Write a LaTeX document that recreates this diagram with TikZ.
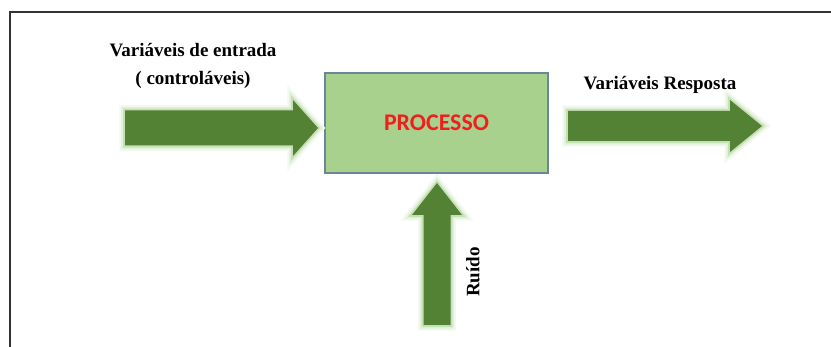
\documentclass[tikz,border=0pt]{standalone}
\usepackage{fontspec}
\setmainfont{Liberation Serif}
\newfontfamily\boxfont{Carlito}

\definecolor{arrowgreen}{HTML}{548235}
\definecolor{glowgreen}{HTML}{C5E0B4}
\definecolor{boxgreen}{HTML}{A9D18E}
\definecolor{boxborder}{HTML}{6A8798}
\definecolor{procred}{HTML}{F01E1E}
\definecolor{framegray}{HTML}{333333}

\begin{document}
\begin{tikzpicture}[x=0.025cm, y=-0.025cm,
  blockarrow/.style={fill=arrowgreen, line join=round,
    preaction={draw=glowgreen!20, line width=8pt},
    preaction={draw=glowgreen!50, line width=5pt},
    preaction={draw=glowgreen, line width=2.5pt}},
  lbl/.style={font=\fontsize{13.5}{16}\selectfont\bfseries, inner sep=0pt},
  procbox/.style={draw=boxborder, fill=boxgreen, line width=0.8pt,
    minimum width=5.575cm, minimum height=2.5cm,
    font=\boxfont\fontsize{17}{20}\selectfont\bfseries, text=procred}]
\useasboundingbox (0,0) rectangle (831,347);
%frame
\draw[framegray, line width=1pt] (10,347) -- (10,12) -- (831,12);
%process
\node[procbox] (proc) at (436.5,123) {PROCESSO};
%input
\fill[blockarrow] (125,110.5) -- (293,110.5) -- (293,100) -- (318,128)
  -- (293,156) -- (293,145.5) -- (125,145.5) -- cycle;
\node[lbl] (inlabel) at (193,50) {Variáveis de entrada};
\node[lbl] (inlabelb) at (193,80) {( controláveis)};
%output
\fill[blockarrow] (568,111) -- (730,111) -- (730,100) -- (762,126)
  -- (730,152) -- (730,141) -- (568,141) -- cycle;
\node[lbl] (outlabel) at (660,85) {Variáveis Resposta};
%noise
\fill[blockarrow] (423.5,325) -- (423.5,215) -- (412,215) -- (437,183)
  -- (462,215) -- (450.5,215) -- (450.5,325) -- cycle;
\node[lbl, rotate=90] (noiselabel) at (473,272) {Ruído};
\end{tikzpicture}
\end{document}
